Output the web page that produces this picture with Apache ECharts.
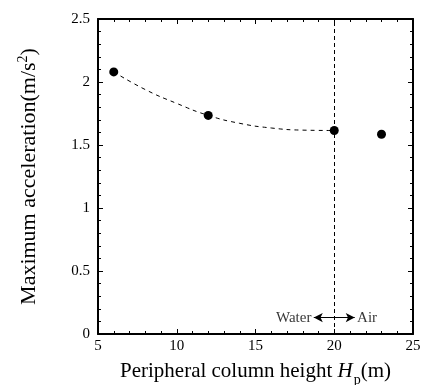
<!DOCTYPE html>
<html><head><meta charset="utf-8">
<script src="https://cdn.jsdelivr.net/npm/echarts@6/dist/echarts.min.js"></script>
<style>html,body{margin:0;padding:0;background:#fff}#c{width:421px;height:385px}</style>
</head><body><div id="c"></div>
<script>
// Measured points
var heights = [6, 12, 20, 23];
var accel = [2.08, 1.735, 1.615, 1.585];
// Dashed trend curve
var curveX = [6, 8, 10, 12, 14, 16, 18, 20];
var curveY = [2.08, 1.94, 1.83, 1.735, 1.672, 1.635, 1.618, 1.615];
var xTicks = [5, 10, 15, 20, 25];
var yTicks = [0, 0.5, 1, 1.5, 2, 2.5];
var dividerX = 20;
var arrowFrom = 18.7, arrowTo = 21.3, arrowY = 0.13;
var leftLabel = 'Water', rightLabel = 'Air';

var font = 'Liberation Serif';
var chart = echarts.init(document.getElementById('c'));
function axisBase(extra){
  return Object.assign({
    axisLine:{show:true,onZero:false,lineStyle:{color:'#000',width:2}},
    axisTick:{show:true,inside:true,length:5,lineStyle:{color:'#000',width:1}},
    minorTick:{show:true,splitNumber:5,length:3,lineStyle:{color:'#000',width:1}},
    splitLine:{show:false}
  }, extra);
}
var option = {
  animation:false,
  backgroundColor:'#fff',
  grid:{left:98,right:8,top:19,bottom:51,containLabel:false,outerBoundsMode:'none'},
  xAxis:[
    axisBase({type:'value',min:xTicks[0],max:xTicks[xTicks.length-1],interval:5,position:'bottom',
      axisLabel:{color:'#000',fontFamily:font,fontSize:15,margin:5},
      name:'Peripheral column height {i|H}{sub|p}(m)',nameLocation:'middle',nameGap:21,
      nameTextStyle:{color:'#000',fontFamily:font,fontSize:21,
        rich:{i:{fontFamily:font,fontSize:21,fontStyle:'italic',color:'#000',padding:[0,10,0,0]},
              sub:{fontFamily:font,fontSize:14,color:'#000',verticalAlign:'bottom',padding:[18,0,0,-9]}}}}),
    axisBase({type:'value',min:xTicks[0],max:xTicks[xTicks.length-1],interval:5,position:'top',axisLabel:{show:false}})
  ],
  yAxis:[
    axisBase({type:'value',min:yTicks[0],max:yTicks[yTicks.length-1],interval:0.5,position:'left',
      axisLabel:{color:'#000',fontFamily:font,fontSize:15,margin:8},
      name:'Maximum acceleration(m/s{sup|2})',nameLocation:'middle',nameGap:56,
      nameTextStyle:{color:'#000',fontFamily:font,fontSize:22,
        rich:{sup:{fontFamily:font,fontSize:14,color:'#000',verticalAlign:'top',padding:[0,0,12,0]}}}}),
    axisBase({type:'value',min:yTicks[0],max:yTicks[yTicks.length-1],interval:0.5,position:'right',axisLabel:{show:false}})
  ],
  series:[
    {type:'line',data:curveX.map(function(x,i){return [x,curveY[i]];}),smooth:true,symbol:'none',
      lineStyle:{color:'#000',width:1,type:[4,4]}},
    {type:'line',data:[],
      markLine:{silent:true,symbol:['none','none'],label:{show:false},
        lineStyle:{color:'#000',width:1,type:[4,3]},
        data:[{xAxis:dividerX}]}},
    {type:'line',data:[],
      markLine:{silent:true,symbol:['arrow','arrow'],symbolSize:[7,9],label:{show:false},
        lineStyle:{color:'#000',width:1,type:'solid'},itemStyle:{color:'#000'},
        data:[[{coord:[arrowFrom,arrowY]},{coord:[arrowTo,arrowY]}]]}},
    {type:'scatter',data:heights.map(function(x,i){return [x,accel[i]];}),symbol:'circle',symbolSize:9,
      itemStyle:{color:'#000',opacity:1},z:10},
    {type:'scatter',symbolSize:0,silent:true,
      data:[{value:[arrowFrom-0.15,arrowY],label:{show:true,position:'left',distance:0,formatter:leftLabel}},
            {value:[arrowTo+0.15,arrowY],label:{show:true,position:'right',distance:0,formatter:rightLabel}}],
      label:{color:'#000',fontFamily:font,fontSize:15}}
  ]
};
chart.setOption(option);
</script></body></html>
